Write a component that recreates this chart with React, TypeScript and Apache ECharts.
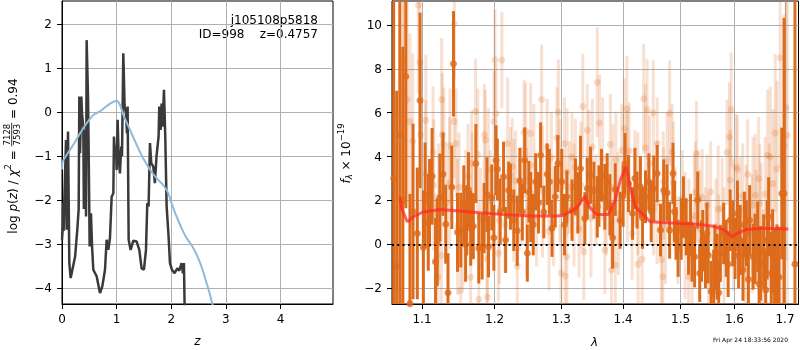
import React, { useEffect, useRef } from "react";
import * as echarts from "echarts";

const FONT = "DejaVu Sans";

// ---------- Left panel: log p(z) ----------
const zTicks = [0, 1, 2, 3, 4];
const logpTicks = [-4, -3, -2, -1, 0, 1, 2];

const blackZ = [0.0, 0.012, 0.02, 0.03, 0.045, 0.073, 0.085, 0.11, 0.134, 0.159, 0.24, 0.28, 0.305, 0.317, 0.33, 0.354, 0.366, 0.39, 0.40, 0.427, 0.44, 0.451, 0.476, 0.488, 0.506, 0.53, 0.55, 0.573, 0.634, 0.695, 0.738, 0.787, 0.817, 0.848, 0.878, 0.909, 0.94, 0.951, 0.97, 0.988, 1.0, 1.018, 1.037, 1.06, 1.085, 1.098, 1.122, 1.146, 1.171, 1.189, 1.201, 1.22, 1.256, 1.305, 1.366, 1.415, 1.457, 1.5, 1.537, 1.561, 1.585, 1.61, 1.634, 1.67, 1.70, 1.73, 1.768, 1.78, 1.805, 1.823, 1.841, 1.866, 1.89, 1.915, 1.951, 1.976, 2.012, 2.06, 2.11, 2.146, 2.189, 2.213, 2.232, 2.244, 2.26];
const blackLogP = [-2.9, -2.67, -2.07, -2.7, -1.9, -0.63, -2.67, -0.44, -3.43, -3.77, -3.28, -2.67, -2.2, 0.36, -0.93, 0.36, -0.02, -0.33, -2.2, -0.4, -2.37, 1.64, 0.36, -0.86, -3.05, -2.3, -3.05, -3.58, -3.73, -4.11, -3.96, -3.58, -2.9, -3.13, -2.86, -1.92, -1.84, -0.55, -1.0, -0.78, -1.31, -0.17, -1.0, -1.39, -0.78, -1.0, 1.34, 0.13, -0.02, -0.48, 0.13, -2.9, -3.13, -2.92, -2.94, -3.13, -3.55, -3.58, -3.13, -2.07, -2.14, -0.7, -1.16, -1.23, -1.61, -1.0, -0.55, 0.13, -0.4, 0.2, -0.33, 0.51, -0.55, -2.14, -2.83, -3.43, -3.58, -3.66, -3.55, -3.6, -3.43, -3.66, -3.43, -4.42, -5.2];

const blueZ = [0.0, 0.012, 0.085, 0.207, 0.33, 0.451, 0.573, 0.695, 0.817, 0.909, 1.0, 1.06, 1.122, 1.244, 1.366, 1.488, 1.61, 1.73, 1.85, 1.945, 2.006, 2.049, 2.11, 2.19, 2.28, 2.37, 2.45, 2.55, 2.65, 2.72, 2.8];
const blueLogP = [-1.3, -1.12, -0.97, -0.74, -0.48, -0.25, -0.06, 0.02, 0.14, 0.22, 0.26, 0.17, -0.06, -0.4, -0.74, -1.05, -1.3, -1.5, -1.65, -1.84, -2.07, -2.22, -2.41, -2.64, -2.86, -3.02, -3.2, -3.5, -3.9, -4.2, -4.6];

// ---------- Right panel: spectrum ----------
const lamTicks = [1.1, 1.2, 1.3, 1.4, 1.5, 1.6, 1.7];
const fluxTicks = [-2, 0, 2, 4, 6, 8, 10];

const lamDark = [
  1.0632, 1.0671, 1.0711, 1.075, 1.0789, 1.0842, 1.0882, 1.0938, 1.0974, 1.1018,
  1.1041, 1.1083, 1.1134, 1.1202, 1.1238, 1.128, 1.1317, 1.1348, 1.1423, 1.1478,
  1.1523, 1.1565, 1.1606, 1.1661, 1.1698, 1.1734, 1.1775, 1.1822, 1.1891, 1.1913,
  1.196, 1.2021, 1.204, 1.2081, 1.213, 1.2205, 1.2231, 1.228, 1.2331, 1.2406,
  1.2441, 1.2481, 1.2505, 1.2531, 1.2606, 1.2681, 1.273, 1.2781, 1.2816, 1.2856,
  1.2906, 1.2946, 1.3006, 1.3087, 1.3168, 1.3222, 1.3303, 1.3372, 1.3411, 1.3464,
  1.3518, 1.3573, 1.3642, 1.3696, 1.3735, 1.3825, 1.3869, 1.395, 1.4033, 1.409,
  1.416, 1.4237, 1.4294, 1.4381, 1.4438, 1.4525, 1.4584, 1.4642, 1.4699, 1.4758,
  1.4803, 1.4863, 1.492, 1.4955, 1.505, 1.51, 1.5143, 1.5206, 1.5254, 1.531,
  1.5347, 1.5403, 1.5453, 1.5503, 1.5559, 1.5607, 1.5671, 1.5732, 1.5794, 1.5844,
  1.5918, 1.5968, 1.6012, 1.6057, 1.611, 1.6164, 1.6229, 1.6294, 1.6362, 1.6453,
  1.6506, 1.6571, 1.6611, 1.667, 1.6723, 1.6789, 1.6836, 1.6935, 1.6981, 1.7204,
  1.11, 1.118, 1.14, 1.159, 1.163, 1.185, 1.199, 1.216, 1.237, 1.257,
  1.265, 1.305, 1.326, 1.36, 1.378, 1.4, 1.42, 1.433, 1.448, 1.489,
  1.501, 1.518, 1.538, 1.548, 1.563, 1.57, 1.588, 1.608, 1.619, 1.627,
  1.64, 1.648, 1.664, 1.675, 1.688,
];
const fluxDark = [
  3.0, -1.0, 5.0, 2.0, 7.65, -2.7, 1.5, 0.5, 6.56, -0.14,
  2.24, 1.0, 3.1, 0.1, 2.14, 3.2, 0.92, -2.2, 8.23, 0.55,
  0.65, 1.8, 1.1, 0.73, 0.83, 3.68, -0.18, -0.1, 2.27, -0.1,
  2.14, 3.83, 3.42, 1.5, 3.08, 2.47, 2.17, 1.1, 0.62, 1.48,
  3.83, -0.4, 2.4, 1.7, 2.85, 4.06, 1.48, 3.2, 2.85, 0.73,
  2.17, 3.68, 2.85, 2.17, 1.56, 2.62, 3.45, 1.18, 2.55, 3.15,
  2.47, 1.71, 3.15, 2.17, 2.85, 0.3, 2.5, 1.1, 3.68, 2.77,
  1.41, 2.02, 2.62, 2.17, 2.85, 2.55, 3.23, 0.65, 2.47, 2.35,
  0.65, 3.23, 0.5, -0.18, 1.7, 0.8, -0.18, -0.4, -0.56, 2.02,
  -1.32, 0.17, -0.79, -0.48, -2.15, -1.55, -1.02, -0.41, 0.5, -0.18,
  1.1, 0.5, -0.18, 1.41, 0.2, -1.17, 0.5, 1.1, -0.56, 0.35,
  -0.86, -0.33, -2.08, 1.26, -1.32, -1.39, -1.39, 2.32, 2.32, -0.9,
  1.9, -0.8, 2.6, 0.0, 2.5, 1.2, 0.3, 0.2, 2.9, 0.9,
  1.9, 0.9, 1.9, 2.2, 1.8, 2.2, 3.0, 1.2, 1.5, 1.5,
  0.7, 0.9, -0.3, 0.5, -0.6, -2.2, -0.9, -0.5, 0.9, -1.6,
  -0.2, -1.8, 0.2, -0.3, -1.5,
];
const errDark = [
  9, 8, 8, 7, 6, 5, 4, 3, 4, 2.6,
  2.4, 2.2, 2.2, 2.0, 2.0, 1.9, 1.8, 1.8, 2.4, 1.8,
  1.7, 1.8, 1.6, 1.7, 1.5, 1.8, 1.6, 1.5, 1.7, 1.4,
  1.5, 1.6, 1.4, 1.5, 1.6, 1.3, 1.5, 1.4, 1.6, 1.3,
  1.5, 1.3, 1.4, 1.6, 1.3, 1.5, 1.2, 1.4, 1.5, 1.3,
  1.4, 1.3, 1.5, 1.2, 1.4, 1.3, 1.5, 1.2, 1.4, 1.3,
  1.3, 1.4, 1.2, 1.5, 1.3, 1.4, 1.2, 1.3, 1.4, 1.3,
  1.2, 1.3, 1.4, 1.2, 1.3, 1.5, 1.3, 1.2, 1.4, 1.3,
  1.3, 1.4, 1.2, 1.3, 1.4, 1.3, 1.2, 1.3, 1.4, 1.3,
  1.3, 1.4, 1.2, 1.3, 1.4, 1.3, 1.5, 1.3, 1.4, 1.3,
  1.4, 1.5, 1.4, 1.5, 1.6, 1.4, 1.5, 1.6, 1.5, 1.6,
  1.7, 1.7, 1.8, 1.8, 1.9, 2.1, 2.3, 3, 8, 12,
  2.0, 2.0, 1.9, 1.7, 1.7, 1.6, 1.5, 1.5, 1.5, 1.4,
  1.4, 1.4, 1.4, 1.4, 1.4, 1.4, 1.4, 1.4, 1.4, 1.4,
  1.4, 1.4, 1.4, 1.4, 1.5, 1.5, 1.5, 1.5, 1.5, 1.6,
  1.6, 1.7, 1.8, 1.9, 2.3,
];

const lamLight = [
  1.0754, 1.0763, 1.0807, 1.0842, 1.0878, 1.0951, 1.0974, 1.0982, 1.1051, 1.1147,
  1.1156, 1.1179, 1.1211, 1.1258, 1.1262, 1.1271, 1.1293, 1.1376, 1.1431, 1.1435,
  1.1459, 1.15, 1.1523, 1.1592, 1.1624, 1.1661, 1.1675, 1.173, 1.1775, 1.1854,
  1.1868, 1.1891, 1.1899, 1.1937, 1.1992, 1.2006, 1.2021, 1.2055, 1.2106, 1.2231,
  1.2256, 1.2306, 1.2331, 1.2406, 1.2431, 1.2456, 1.2481, 1.2531, 1.2696, 1.2781,
  1.2846, 1.2931, 1.2955, 1.2996, 1.3049, 1.306, 1.3087, 1.3168, 1.3222, 1.334,
  1.3356, 1.3411, 1.3437, 1.3492, 1.3573, 1.361, 1.3696, 1.3788, 1.3804, 1.3869,
  1.388, 1.3977, 1.4021, 1.4063, 1.4103, 1.415, 1.4254, 1.4323, 1.4351, 1.441,
  1.445, 1.4515, 1.4584, 1.4659, 1.4682, 1.4689, 1.4699, 1.4758, 1.4803, 1.4845,
  1.4902, 1.5143, 1.5206, 1.5268, 1.5286, 1.5318, 1.5392, 1.5485, 1.5607, 1.5701,
  1.5764, 1.5857, 1.5905, 1.5918, 1.5937, 1.6032, 1.6057, 1.611, 1.6229, 1.6255,
  1.6342, 1.6407, 1.6472, 1.6492, 1.656, 1.665, 1.6704, 1.6757, 1.6802, 1.6836,
  1.6901, 1.6981, 1.7024, 1.7047,
  1.133, 1.155, 1.18, 1.215, 1.236, 1.262, 1.288, 1.313, 1.328, 1.355,
  1.372, 1.42, 1.452, 1.495, 1.503, 1.515, 1.545, 1.555, 1.565, 1.616,
  1.642, 1.66,
  1.105, 1.122, 1.137, 1.148, 1.168, 1.176, 1.191, 1.207, 1.219, 1.228,
  1.247, 1.258, 1.271, 1.281, 1.298, 1.309, 1.32, 1.331, 1.347, 1.366,
  1.383, 1.392, 1.407, 1.425, 1.438, 1.458, 1.473, 1.487, 1.508, 1.525,
  1.535, 1.551, 1.569, 1.58, 1.598, 1.621, 1.636, 1.652, 1.668, 1.695,
];
const fluxLight = [
  8.3, 7.0, 6.6, 5.6, 4.7, 10.9, 8.3, 5.0, 5.65, 4.2,
  2.7, -0.7, -1.5, -0.5, 6.6, 5.0, 4.55, 4.5, 5.6, 10.05,
  4.6, 2.6, -2.1, 1.9, 3.1, -1.5, 3.7, 6.06, -2.5, 5.0,
  4.75, -0.64, -2.4, 2.0, 5.6, 8.4, 5.95, -0.4, 8.4, 3.15,
  3.56, 2.9, -1.0, 2.24, 5.1, 5.17, 2.9, 5.05, 6.6, 4.44,
  3.95, 4.86, 6.03, -1.3, 4.6, -1.44, -0.56, 3.98, 3.53, 6.29,
  -0.33, 5.2, 3.83, 4.44, 7.39, 5.53, -0.26, 4.56, -1.17, -0.94,
  3.86, 4.29, 5.27, 6.18, 4.26, 0.5, -0.9, -0.68, 6.64, 6.14,
  3.68, 6.0, 4.6, -0.7, -1.47, 2.85, 2.32, 3.83, 5.98, 4.2,
  1.41, -1.47, -0.7, 2.39, 4.14, 2.17, 2.14, 1.79, -1.32, -0.03,
  1.64, 4.2, 4.89, 2.92, 6.14, 3.53, 3.4, 1.56, 1.03, 3.2,
  0.5, 2.24, 3.0, 1.86, -1.39, 4.06, 3.98, 2.77, 5.08, 3.45,
  8.5, 4.48, 6.23, 4.97,
  1.9, 0.4, 1.2, 0.9, 1.8, 1.2, 1.0, 2.6, 0.7, 2.0,
  1.5, 3.0, 1.6, 0.2, 2.1, 0.9, 0.4, 2.4, 0.8, 2.2,
  0.9, 2.3,
  3.2, 1.4, 2.8, 0.8, 2.2, 4.1, 3.4, 1.1, 4.6, 2.0,
  1.5, 3.6, 2.4, 0.6, 2.9, 3.3, 1.8, 2.7, 1.2, 3.9,
  2.6, 1.4, 3.1, 2.3, 4.4, 1.9, 0.9, 2.8, 0.4, 1.3,
  0.7, -0.5, 1.6, -0.2, 0.9, -0.6, 1.8, 0.5, 1.2, -0.4,
];
const errLight = [
  6, 5, 4.5, 4, 4, 4, 3.5, 3.5, 3, 3,
  3, 3, 2.8, 2.8, 2.8, 2.8, 2.6, 2.6, 2.6, 2.5,
  2.5, 2.5, 2.5, 2.4, 2.4, 2.4, 2.4, 2.4, 2.4, 2.3,
  2.3, 2.3, 2.3, 2.3, 2.3, 2.3, 2.3, 2.2, 2.2, 2.2,
  2.2, 2.3, 2.1, 2.2, 2.4, 2.2, 2.1, 2.3, 2.5, 2.2,
  2.1, 2.3, 2.4, 2.2, 2.1, 2.3, 2.2, 2.0, 2.2, 2.4,
  2.2, 2.1, 2.3, 2.2, 2.5, 2.2, 2.0, 2.3, 2.1, 2.2,
  2.2, 2.1, 2.3, 2.4, 2.2, 2.1, 2.0, 2.2, 2.5, 2.3,
  2.2, 2.4, 2.1, 2.0, 2.2, 2.3, 2.1, 2.2, 2.4, 2.2,
  2.1, 2.2, 2.0, 2.3, 2.4, 2.1, 2.2, 2.3, 2.2, 2.3,
  2.3, 2.4, 2.5, 2.3, 2.6, 2.4, 2.5, 2.4, 2.6, 2.5,
  2.7, 2.8, 2.8, 2.7, 3.0, 3.0, 3.2, 3.4, 3.6, 4.0,
  5, 6, 7, 8,
  2.5, 2.4, 2.3, 2.2, 2.1, 2.2, 2.0, 2.1, 2.2, 2.1,
  2.0, 2.2, 2.1, 2.0, 2.2, 2.1, 2.2, 2.3, 2.2, 2.4,
  2.5, 2.6,
  3.4, 3.2, 3.0, 3.1, 2.9, 3.0, 2.8, 2.9, 3.0, 2.8,
  2.9, 2.8, 3.0, 2.7, 2.8, 2.9, 2.8, 2.9, 2.7, 2.8,
  2.9, 2.8, 3.0, 2.8, 2.9, 2.8, 2.7, 2.8, 2.9, 2.8,
  2.7, 2.8, 2.9, 2.8, 3.0, 3.0, 3.1, 3.2, 3.4, 4.5,
];

const modelLam = [1.0713, 1.0735, 1.0807, 1.0886, 1.1017, 1.124, 1.1467, 1.1792, 1.2126, 1.2521, 1.2929, 1.3032, 1.3137, 1.3244, 1.3376, 1.3445, 1.3567, 1.3757, 1.3868, 1.3952, 1.4048, 1.412, 1.4206, 1.4291, 1.4464, 1.4994, 1.5297, 1.5603, 1.579, 1.5948, 1.6075, 1.6238, 1.6565, 1.7068];
const modelFlux = [2.17, 1.64, 1.03, 1.26, 1.48, 1.59, 1.53, 1.44, 1.36, 1.29, 1.29, 1.33, 1.48, 1.68, 2.2, 1.71, 1.36, 1.36, 2.02, 2.92, 3.53, 2.62, 1.71, 1.48, 1.03, 0.95, 0.92, 0.83, 0.68, 0.35, 0.53, 0.68, 0.74, 0.7];

const objName = "j105108p5818";
const idLine = "ID=998    z=0.4757";
const stamp = "Fri Apr 24 18:33:56 2020";

const leftYLabel = [
  { t: "log ", s: 12 },
  { t: "p", s: 12, i: true },
  { t: "(", s: 12 },
  { t: "z", s: 12, i: true },
  { t: ") / ", s: 12 },
  { t: "χ", s: 12, i: true },
  { t: "2", s: 8.5, dy: -4.5 },
  { t: " = ", s: 12 },
  { num: "7128", den: "7593", s: 8.5 },
  { t: " = 0.94", s: 12 },
];
const rightYLabel = [
  { t: "f", s: 12, i: true },
  { t: "λ", s: 8.5, i: true, dy: 3.5 },
  { t: " × 10", s: 12 },
  { t: "\u221219", s: 8.5, dy: -4.5 },
];

const DARK = "#dd6b1c";
const LIGHT_BAR = "rgba(222,107,28,0.2)";
const LIGHT_MK = "rgba(222,107,28,0.27)";
const GRIDC = "#b0b0b0";

const fmtNum = (v: number) => (v < 0 ? "\u2212" + Math.abs(v) : String(v));

function buildLabel(pieces: any[], cx: number, cy: number) {
  const canvas = document.createElement("canvas");
  const ctx = canvas.getContext("2d")!;
  const meas = (t: string, s: number, it?: boolean) => {
    ctx.font = `${it ? "italic " : ""}${s}px "${FONT}"`;
    return ctx.measureText(t).width;
  };
  const txt = (t: string, x: number, y: number, s: number, it: boolean, align: string) => ({
    type: "text",
    x,
    y,
    style: {
      text: t,
      fontSize: s,
      fontFamily: FONT,
      fontStyle: it ? "italic" : "normal",
      fill: "#000",
      textAlign: align,
      align,
      textVerticalAlign: "middle",
      verticalAlign: "middle",
    },
  });
  const children: any[] = [];
  let u = 0;
  for (const p of pieces) {
    if (p.num) {
      const w = Math.max(meas(p.num, p.s), meas(p.den, p.s)) + 2;
      children.push(txt(p.num, u + w / 2, -5.5, p.s, false, "center"));
      children.push(txt(p.den, u + w / 2, 4.5, p.s, false, "center"));
      children.push({ type: "line", shape: { x1: u, y1: -0.8, x2: u + w, y2: -0.8 }, style: { stroke: "#000", lineWidth: 0.8 } });
      u += w;
    } else {
      const w = meas(p.t, p.s, p.i);
      children.push(txt(p.t, u, p.dy || 0, p.s, !!p.i, "left"));
      u += w;
    }
  }
  const shift = -u / 2;
  children.forEach((c) => {
    if (c.type === "line") {
      c.shape.x1 += shift;
      c.shape.x2 += shift;
    } else c.x += shift;
  });
  return { type: "group", x: cx, y: cy, rotation: Math.PI / 2, children };
}

const errRender = (color: string) => (_p: any, api: any) => {
  const x = api.value(0);
  const y = api.value(1);
  const e = api.value(2);
  const a = api.coord([x, y + e]);
  const b = api.coord([x, y - e]);
  return {
    type: "line",
    shape: { x1: a[0], y1: a[1], x2: b[0], y2: b[1] },
    style: { stroke: color, lineWidth: 3 },
  };
};

const labelStyle = { fontFamily: FONT, fontSize: 12, color: "#000", margin: 9 };
const tickStyle = { length: 5, lineStyle: { color: "#000", width: 1 } };
const splitStyle = { show: true, lineStyle: { color: GRIDC, width: 1 } };
const axisLineStyle = { show: true, onZero: false, lineStyle: { color: "#000", width: 1 } };

export default function App() {
  const ref = useRef<HTMLDivElement>(null);
  useEffect(() => {
    if (!ref.current) return;
    const chart = echarts.init(ref.current, undefined, { renderer: "svg" });
    const lg = (v: number) => Math.log10(v);
    const lamTickVals = lamTicks.map(lg);
    const darkData = lamDark.map((l, i) => [lg(l), fluxDark[i], errDark[i]]);
    const lightData = lamLight.map((l, i) => [lg(l), fluxLight[i], errLight[i]]);

    const option: any = {
      animation: false,
      textStyle: { fontFamily: FONT },
      grid: [
        { left: 62, top: 1, width: 271, height: 303, show: true, borderColor: "#000", borderWidth: 1, backgroundColor: "transparent" },
        { left: 392, top: 1, width: 406.5, height: 303, show: true, borderColor: "#000", borderWidth: 1, backgroundColor: "transparent" },
      ],
      xAxis: [
        {
          type: "value", gridIndex: 0, min: 0, max: 4.96,
          axisLine: axisLineStyle,
          axisTick: { ...tickStyle, customValues: zTicks },
          axisLabel: { ...labelStyle, customValues: zTicks, formatter: fmtNum },
          splitLine: splitStyle,
        },
        {
          type: "value", gridIndex: 1, min: 0.02576, max: 0.23748,
          axisLine: axisLineStyle,
          axisTick: { ...tickStyle, customValues: lamTickVals },
          axisLabel: { ...labelStyle, customValues: lamTickVals, formatter: (v: number) => Math.pow(10, v).toFixed(1) },
          splitLine: splitStyle,
        },
      ],
      yAxis: [
        {
          type: "value", gridIndex: 0, min: -4.36, max: 2.53,
          axisLine: axisLineStyle,
          axisTick: { ...tickStyle, customValues: logpTicks },
          axisLabel: { ...labelStyle, margin: 10, customValues: logpTicks, formatter: fmtNum },
          splitLine: splitStyle,
        },
        {
          type: "value", gridIndex: 1, min: -2.716, max: 11.09,
          axisLine: axisLineStyle,
          axisTick: { ...tickStyle, customValues: fluxTicks },
          axisLabel: { ...labelStyle, margin: 10, customValues: fluxTicks, formatter: fmtNum },
          splitLine: splitStyle,
        },
      ],
      series: [
        {
          type: "line", xAxisIndex: 0, yAxisIndex: 0, z: 3,
          data: blackZ.map((z, i) => [z, blackLogP[i]]),
          showSymbol: false, symbol: "none", clip: true,
          lineStyle: { color: "#3a3a3a", width: 2.5 },
        },
        {
          type: "line", xAxisIndex: 0, yAxisIndex: 0, z: 4,
          data: blueZ.map((z, i) => [z, blueLogP[i]]),
          showSymbol: false, symbol: "none", clip: true, smooth: 0.2,
          lineStyle: { color: "#8fbbd9", width: 2 },
        },
        {
          type: "custom", xAxisIndex: 1, yAxisIndex: 1, z: 2, clip: true,
          renderItem: errRender(LIGHT_BAR), data: lightData, encode: { x: 0, y: 1 },
        },
        {
          type: "scatter", xAxisIndex: 1, yAxisIndex: 1, z: 3, clip: true,
          data: lightData.map((d) => [d[0], d[1]]), symbolSize: 7,
          itemStyle: { color: LIGHT_MK },
        },
        {
          type: "custom", xAxisIndex: 1, yAxisIndex: 1, z: 4, clip: true,
          renderItem: errRender(DARK), data: darkData, encode: { x: 0, y: 1 },
        },
        {
          type: "scatter", xAxisIndex: 1, yAxisIndex: 1, z: 5, clip: true,
          data: darkData.map((d) => [d[0], d[1]]), symbolSize: 7,
          itemStyle: { color: DARK },
        },
        {
          type: "line", xAxisIndex: 1, yAxisIndex: 1, z: 7,
          data: modelLam.map((l, i) => [lg(l), modelFlux[i]]),
          showSymbol: false, symbol: "none", clip: true,
          lineStyle: { color: "rgba(255,40,40,0.72)", width: 3 },
          markLine: {
            silent: true, symbol: "none", label: { show: false },
            lineStyle: { color: "#000", width: 2, type: [2, 3.3] },
            data: [{ yAxis: 0 }],
          },
        },
      ],
      graphic: [
        buildLabel(leftYLabel, 12.5, 156),
        buildLabel(rightYLabel, 345.5, 153.5),
        { type: "text", x: 197.5, y: 341, style: { text: "z", fontSize: 12, fontFamily: FONT, fontStyle: "italic", fill: "#000", textAlign: "center", align: "center", textVerticalAlign: "middle", verticalAlign: "middle" } },
        { type: "text", x: 594.5, y: 342, style: { text: "λ", fontSize: 12, fontFamily: FONT, fontStyle: "italic", fill: "#000", textAlign: "center", align: "center", textVerticalAlign: "middle", verticalAlign: "middle" } },
        { type: "text", x: 318, y: 20, style: { text: objName, fontSize: 12, fontFamily: FONT, fill: "#000", textAlign: "right", align: "right", textVerticalAlign: "middle", verticalAlign: "middle" } },
        { type: "text", x: 318, y: 34, style: { text: idLine, fontSize: 12, fontFamily: FONT, fill: "#000", textAlign: "right", align: "right", textVerticalAlign: "middle", verticalAlign: "middle" } },
        { type: "text", x: 788, y: 339, style: { text: stamp, fontSize: 6, fontFamily: FONT, fill: "#000", textAlign: "right", align: "right", textVerticalAlign: "middle", verticalAlign: "middle" } },
      ],
    };
    chart.setOption(option);
    return () => chart.dispose();
  }, []);
  return <div ref={ref} style={{ position: "fixed", left: 0, top: 0, width: 800, height: 350 }} />;
}
